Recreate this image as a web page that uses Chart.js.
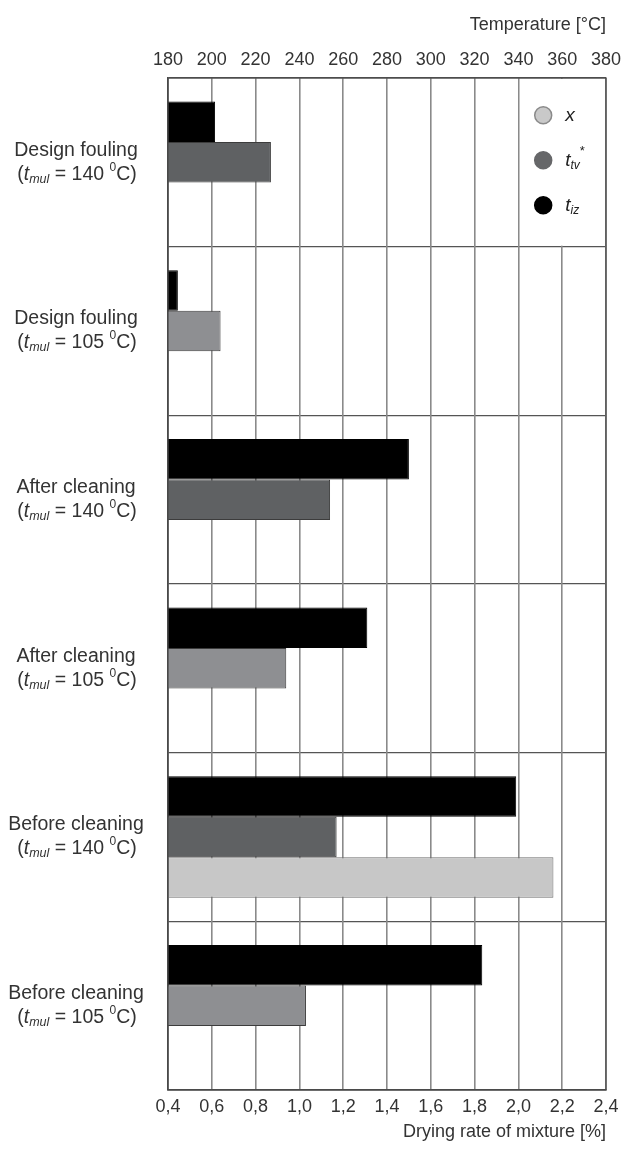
<!DOCTYPE html>
<html>
<head>
<meta charset="utf-8">
<title>Drying temperatures and drying rate</title>
<script src="https://cdn.jsdelivr.net/npm/chart.js@4.4.1/dist/chart.umd.min.js"></script>
<style>
  html, body { margin: 0; padding: 0; background: #ffffff; }
  #wrap { width: 622px; height: 1149px; }
</style>
</head>
<body>
<div id="wrap"><canvas id="c" width="622" height="1149"></canvas></div>
<script>
// Operating states (top to bottom) and the mixture temperature of each state
const categories = ['Design fouling', 'Design fouling', 'After cleaning', 'After cleaning', 'Before cleaning', 'Before cleaning'];
const mixtureTemps = [140, 105, 140, 105, 140, 105];

// Outlet temperature t_iz and t_tv* [°C]
const tIz = [201.5, 184.5, 290, 271, 339, 323.5];
const tTv = [227, 204, 254, 234, 257, 243];

// Drying rate of mixture x [%]
const dryingRate = [null, null, null, null, 2.16, null];

// Axis ticks
const tempTicks = [180, 200, 220, 240, 260, 280, 300, 320, 340, 360, 380];
const rateTicks = [0.4, 0.6, 0.8, 1.0, 1.2, 1.4, 1.6, 1.8, 2.0, 2.2, 2.4];

const FONT = '"Liberation Sans", Arial, Helvetica, sans-serif';
const TEXT = '#333333';

// Draw a run of text pieces (normal / italic / sub / superscript) on one baseline
function drawRich(ctx, parts, x, y, align) {
  let total = 0;
  parts.forEach(p => {
    ctx.font = (p.italic ? 'italic ' : '') + p.size + 'px ' + FONT;
    p.w = ctx.measureText(p.t).width;
    total += p.w;
  });
  let cx = align === 'center' ? x - total / 2 : (align === 'right' ? x - total : x);
  ctx.textAlign = 'left';
  ctx.textBaseline = 'middle';
  parts.forEach(p => {
    ctx.font = (p.italic ? 'italic ' : '') + p.size + 'px ' + FONT;
    ctx.fillText(p.t, cx, y + (p.dy || 0));
    cx += p.w;
  });
}

// State names with the mixture temperature, left of the plot
const sideLabels = {
  id: 'sideLabels',
  afterDraw(chart) {
    const ys = chart.scales.y;
    const ctx = chart.ctx;
    ctx.save();
    ctx.fillStyle = TEXT;
    categories.forEach((name, i) => {
      const cy = ys.getPixelForValue(i);
      drawRich(ctx, [{ t: name, size: 19.5 }], 76, cy - 12, 'center');
      drawRich(ctx, [
        { t: '(', size: 19.5 },
        { t: 't', size: 19.5, italic: true },
        { t: 'mul', size: 12.5, italic: true, dy: 5 },
        { t: ' = ' + mixtureTemps[i] + ' ', size: 19.5 },
        { t: '0', size: 12, dy: -7 },
        { t: 'C)', size: 19.5 }
      ], 77, cy + 12, 'center');
    });
    ctx.restore();
  }
};

// Plot frame, and the legend box in the first row
const frameAndLegend = {
  id: 'frameAndLegend',
  beforeDatasetsDraw(chart) {
    const a = chart.chartArea;
    const xs = chart.scales.xRate;
    const ys = chart.scales.y;
    const ctx = chart.ctx;
    const left = xs.getPixelForValue(rateTicks[rateTicks.length - 3]) + 1.5;
    const bottom = (ys.getPixelForValue(0) + ys.getPixelForValue(1)) / 2 - 1;
    ctx.save();
    ctx.fillStyle = '#ffffff';
    ctx.fillRect(left, a.top + 1, a.right - left - 1, bottom - a.top - 1);
    ctx.restore();
  },
  afterDatasetsDraw(chart) {
    const a = chart.chartArea;
    const ctx = chart.ctx;
    ctx.save();
    ctx.strokeStyle = '#4a4a4a';
    ctx.lineWidth = 1.3;
    ctx.strokeRect(a.left, a.top, a.right - a.left, a.bottom - a.top);
    ctx.restore();
  },
  afterDraw(chart) {
    const xs = chart.scales.xRate;
    const ys = chart.scales.y;
    const ctx = chart.ctx;
    const cx = xs.getPixelForValue(rateTicks[rateTicks.length - 2]) - 19;
    const c0 = ys.getPixelForValue(0);
    const items = [
      { fill: '#c9c9c9', stroke: '#8a8a8a', label: [{ t: 'x', size: 19, italic: true }] },
      { fill: '#666769', stroke: '#666769', label: [{ t: 't', size: 19, italic: true }, { t: 'tv', size: 12, italic: true, dy: 5 }, { t: '*', size: 13, dy: -9 }] },
      { fill: '#000000', stroke: '#000000', label: [{ t: 't', size: 19, italic: true }, { t: 'iz', size: 12, italic: true, dy: 5 }] }
    ];
    ctx.save();
    items.forEach((it, k) => {
      const cy = c0 - 47 + k * 45;
      ctx.beginPath();
      ctx.arc(cx, cy, 8.5, 0, Math.PI * 2);
      ctx.fillStyle = it.fill;
      ctx.fill();
      ctx.lineWidth = 1.5;
      ctx.strokeStyle = it.stroke;
      ctx.stroke();
      ctx.fillStyle = '#222222';
      drawRich(ctx, it.label, cx + 22, cy, 'left');
    });
    ctx.restore();
  }
};

// Keep the plot edges fixed, independent of end-label overhang
function fitHorizontal(height) {
  return function (s) {
    s.height = height;
    s.paddingLeft = 0;
    s.paddingRight = 0;
  };
}

new Chart(document.getElementById('c'), {
  type: 'bar',
  data: {
    labels: categories,
    datasets: [
      {
        label: 't_iz',
        data: tIz,
        xAxisID: 'xTemp',
        base: tempTicks[0],
        backgroundColor: '#000000',
        borderColor: '#000000',
        borderWidth: 1
      },
      {
        label: 't_tv*',
        data: tTv,
        xAxisID: 'xTemp',
        base: tempTicks[0],
        backgroundColor: mixtureTemps.map(t => t === 140 ? '#5f6163' : '#8e8f92'),
        borderColor: '#3c3c3c',
        borderWidth: 1
      },
      {
        label: 'x',
        data: dryingRate,
        xAxisID: 'xRate',
        base: rateTicks[0],
        backgroundColor: '#c7c7c7',
        borderColor: '#6f6f6f',
        borderWidth: 1
      }
    ]
  },
  options: {
    responsive: false,
    animation: false,
    indexAxis: 'y',
    layout: { padding: { left: 0, right: 16, top: 0, bottom: 0 } },
    datasets: { bar: { categoryPercentage: 0.72, barPercentage: 1.0 } },
    plugins: {
      legend: { display: false },
      tooltip: { enabled: false }
    },
    scales: {
      y: {
        type: 'category',
        offset: true,
        grid: { offset: true, color: '#555555', lineWidth: 1.2, drawTicks: false },
        border: { display: true, color: '#4a4a4a', width: 1.3 },
        ticks: { display: false },
        afterFit(s) { s.width = 168; s.paddingTop = 0; s.paddingBottom = 0; }
      },
      xTemp: {
        type: 'linear',
        position: 'top',
        min: tempTicks[0],
        max: tempTicks[tempTicks.length - 1],
        afterBuildTicks(s) { s.ticks = tempTicks.map(v => ({ value: v })); },
        grid: { display: false, drawTicks: false },
        border: { display: false },
        ticks: {
          padding: 7,
          autoSkip: false,
          maxRotation: 0,
          color: TEXT,
          font: { family: FONT, size: 18 }
        },
        title: {
          display: true,
          text: 'Temperature [°C]',
          align: 'end',
          color: TEXT,
          padding: { top: 14, bottom: 0 },
          font: { family: FONT, size: 18 }
        },
        afterFit: fitHorizontal(78)
      },
      xRate: {
        type: 'linear',
        position: 'bottom',
        min: rateTicks[0],
        max: rateTicks[rateTicks.length - 1],
        afterBuildTicks(s) { s.ticks = rateTicks.map(v => ({ value: v })); },
        grid: { color: '#8a8a8a', lineWidth: 1.6, drawTicks: false },
        border: { display: true, color: '#4a4a4a', width: 1.3 },
        ticks: {
          padding: 6,
          autoSkip: false,
          maxRotation: 0,
          color: TEXT,
          font: { family: FONT, size: 18 },
          callback: v => Number(v).toFixed(1).replace('.', ',')
        },
        title: {
          display: true,
          text: 'Drying rate of mixture [%]',
          align: 'end',
          color: TEXT,
          padding: { top: 0, bottom: 6 },
          font: { family: FONT, size: 18 }
        },
        afterFit: fitHorizontal(59)
      }
    }
  },
  plugins: [frameAndLegend, sideLabels]
});
</script>
</body>
</html>
